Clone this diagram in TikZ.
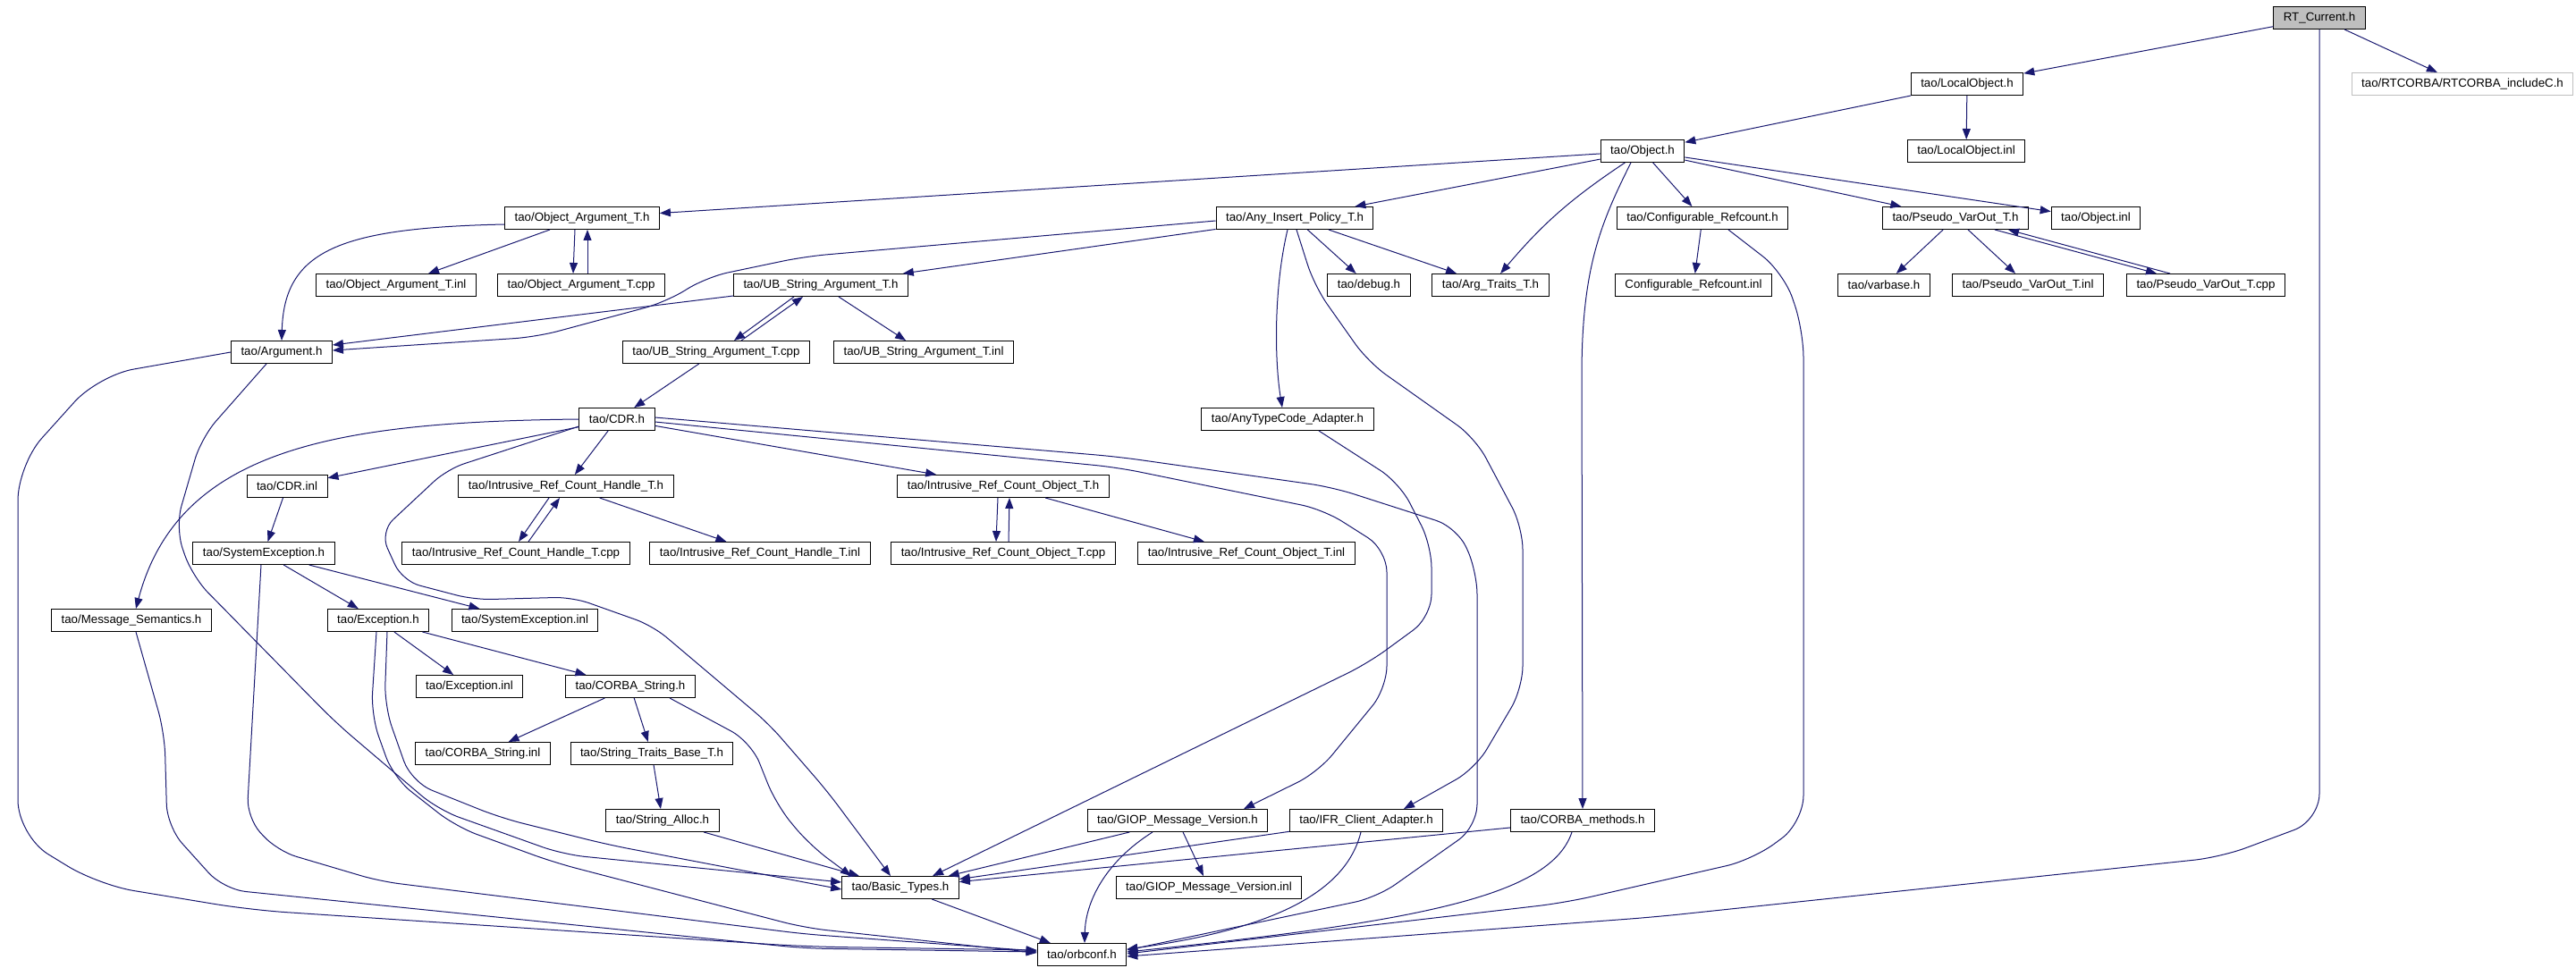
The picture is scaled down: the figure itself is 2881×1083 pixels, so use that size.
\documentclass[tikz,border=0pt]{standalone}
\usepackage{fontspec}
\setmainfont{Liberation Sans}
\usetikzlibrary{arrows.meta}
\definecolor{depblue}{HTML}{191970}
\definecolor{srcgray}{HTML}{BFBFBF}

\begin{document}
\begin{tikzpicture}[x=1pt,y=-1pt,>={Triangle[length=12pt,width=9pt]},
  file/.style={draw,line width=1pt,inner xsep=11pt,inner ysep=0pt,minimum height=25pt,font=\fontsize{13.3}{15}\selectfont},
  dep/.style={->,draw=depblue,line width=1pt},
  every edge/.style={draw,dep}]
  \useasboundingbox (0,0) rectangle (2881,1083);

  \node[file,fill=srcgray] (rtcur) at (2594,20) {RT\_Current.h};
  \node[file,draw=srcgray] (rtcorba) at (2754,94) {tao/RTCORBA/RTCORBA\_includeC.h};
  \node[file] (local) at (2200,94) {tao/LocalObject.h};
  \node[file] (localinl) at (2199,169) {tao/LocalObject.inl};
  \node[file] (obj) at (1837,169) {tao/Object.h};

  %4
  \node[file] (objarg) at (651,244) {tao/Object\_Argument\_T.h};
  \node[file] (anyins) at (1448,244) {tao/Any\_Insert\_Policy\_T.h};
  \node[file] (cfg) at (1904,244) {tao/Configurable\_Refcount.h};
  \node[file] (pvo) at (2187,244) {tao/Pseudo\_VarOut\_T.h};
  \node[file] (objinl) at (2344,244) {tao/Object.inl};

  %5
  \node[file] (objarginl) at (443,319) {tao/Object\_Argument\_T.inl};
  \node[file] (objargcpp) at (650,319) {tao/Object\_Argument\_T.cpp};
  \node[file] (ubarg) at (918,319) {tao/UB\_String\_Argument\_T.h};
  \node[file] (debug) at (1531,319) {tao/debug.h};
  \node[file] (argtr) at (1667,319) {tao/Arg\_Traits\_T.h};
  \node[file] (cfginl) at (1894,319) {Configurable\_Refcount.inl};
  \node[file] (varbase) at (2107,319) {tao/varbase.h};
  \node[file] (pvoinl) at (2268,319) {tao/Pseudo\_VarOut\_T.inl};
  \node[file] (pvocpp) at (2467,319) {tao/Pseudo\_VarOut\_T.cpp};

  %6
  \node[file] (arg) at (315,394) {tao/Argument.h};
  \node[file] (ubcpp) at (801,394) {tao/UB\_String\_Argument\_T.cpp};
  \node[file] (ubinl) at (1033,394) {tao/UB\_String\_Argument\_T.inl};

  %7
  \node[file] (cdr) at (690,469) {tao/CDR.h};
  \node[file] (anytc) at (1440,469) {tao/AnyTypeCode\_Adapter.h};

  %8
  \node[file] (cdrinl) at (321,544) {tao/CDR.inl};
  \node[file] (irch) at (633,544) {tao/Intrusive\_Ref\_Count\_Handle\_T.h};
  \node[file] (irco) at (1122,544) {tao/Intrusive\_Ref\_Count\_Object\_T.h};

  %9
  \node[file] (sysex) at (295,619) {tao/SystemException.h};
  \node[file] (irchcpp) at (577,619) {tao/Intrusive\_Ref\_Count\_Handle\_T.cpp};
  \node[file] (irchinl) at (850,619) {tao/Intrusive\_Ref\_Count\_Handle\_T.inl};
  \node[file] (ircocpp) at (1122,619) {tao/Intrusive\_Ref\_Count\_Object\_T.cpp};
  \node[file] (ircoinl) at (1394,619) {tao/Intrusive\_Ref\_Count\_Object\_T.inl};

  %10
  \node[file] (msgsem) at (147,694) {tao/Message\_Semantics.h};
  \node[file] (exc) at (423,694) {tao/Exception.h};
  \node[file] (sysexinl) at (587,694) {tao/SystemException.inl};

  %11
  \node[file] (excinl) at (525,768) {tao/Exception.inl};
  \node[file] (cstr) at (705,768) {tao/CORBA\_String.h};

  %12
  \node[file] (cstrinl) at (540,843) {tao/CORBA\_String.inl};
  \node[file] (strtr) at (729,843) {tao/String\_Traits\_Base\_T.h};

  %13
  \node[file] (stralloc) at (741,918) {tao/String\_Alloc.h};
  \node[file] (giop) at (1317,918) {tao/GIOP\_Message\_Version.h};
  \node[file] (ifr) at (1528,918) {tao/IFR\_Client\_Adapter.h};
  \node[file] (corbam) at (1770,918) {tao/CORBA\_methods.h};

  %14
  \node[file] (basic) at (1007,993) {tao/Basic\_Types.h};
  \node[file] (giopinl) at (1352,993) {tao/GIOP\_Message\_Version.inl};

  %15
  \node[file] (orbconf) at (1210,1068) {tao/orbconf.h};

  \path
    (rtcur) edge (local)
            edge (rtcorba)
    (local) edge (obj)
            edge (localinl)
    (obj) edge (objarg)
          edge (anyins)
          edge[bend right=8] (argtr)
          edge (cfg)
          edge (pvo)
          edge (objinl)
    (cfg) edge (cfginl)
    (pvo) edge (varbase)
          edge (pvoinl)
    (objarg) edge (objarginl)
    (anyins) edge (ubarg)
             edge (debug)
             edge (argtr)
    (ubarg) edge ([yshift=8pt]arg.east)
            edge (ubinl)
    (ubcpp) edge (cdr)
    (cdr) edge (cdrinl)
          edge (irch)
          edge (irco)
    (irch) edge (irchinl)
    (irco) edge (ircoinl)
    (cdrinl) edge (sysex)
    (sysex) edge (exc)
            edge (sysexinl)
    (exc) edge (excinl)
          edge (cstr)
    (cstr) edge (cstrinl)
           edge (strtr)
    (strtr) edge (stralloc)
    (stralloc) edge (basic)
    (giop) edge (basic)
           edge (giopinl)
    (ifr) edge (basic)
    (corbam) edge (basic)
    (basic) edge (orbconf);

  % both ways
  \path
    ([xshift=-8pt]objarg.south) edge ([xshift=-9pt]objargcpp.north)
    ([xshift=7pt]objargcpp.north) edge ([xshift=6pt]objarg.south)
    ([xshift=44pt]pvo.south) edge ([xshift=-55pt]pvocpp.north)
    ([xshift=-40pt]pvocpp.north) edge ([xshift=59pt]pvo.south)
    ([xshift=-30pt]ubarg.south) edge ([xshift=20pt]ubcpp.north)
    ([xshift=28pt]ubcpp.north) edge ([xshift=-20pt]ubarg.south)
    ([xshift=-19pt]irch.south) edge ([xshift=3pt]irchcpp.north)
    ([xshift=14pt]irchcpp.north) edge ([xshift=-7pt]irch.south)
    ([xshift=-6pt]irco.south) edge ([xshift=-8pt]ircocpp.north)
    ([xshift=6pt]ircocpp.north) edge ([xshift=7pt]irco.south);

  % long ones
  \draw[dep] ([xshift=-13pt]obj.south) .. controls (1790,250) and (1769,300) .. (1769,420) -- (corbam.north);
  \draw[dep] ([yshift=-7pt]objarg.west) .. controls (380,255) and (318,280) .. (arg.north);
  \draw[dep,rounded corners=25pt] ([yshift=-3pt]anyins.west) -- (900,287) -- (790,310) -- (745,338) -- (600,377) -- ([yshift=2pt]arg.east);
  \draw[dep] ([xshift=-8pt]anyins.south) .. controls (1425,320) and (1425,400) .. ([xshift=-6pt]anytc.north);
  \draw[dep,rounded corners=25pt] ([xshift=2pt]anyins.south) -- (1470,320) -- (1530,405) -- (1650,490) -- (1703,590) -- (1703,770) -- (1650,860) -- ([xshift=42pt]ifr.north);
  \draw[dep] (cdr.west) .. controls (380,472) and (200,500) .. ([xshift=5pt]msgsem.north);
  \draw[dep,rounded corners=20pt] ([yshift=-8pt]cdr.west) -- (500,525) -- (425,595) -- (450,650) -- (530,671) -- (640,668) -- (730,700) -- (860,810) -- (925,885) -- ([xshift=-11pt]basic.north);
  \draw[dep,rounded corners=25pt] ([yshift=-3pt]cdr.east) -- (1250,523) -- (1480,570) -- (1551,615) -- (1551,770) -- (1474,864) -- ([xshift=74pt]giop.north);
  \draw[dep,rounded corners=25pt] ([yshift=2pt]cdr.east) -- (1250,511) -- (1490,545) -- (1630,590) -- (1652,640) -- (1652,925) -- (1540,1004) -- ([yshift=5pt]orbconf.east);
  \draw[dep,rounded corners=25pt] ([xshift=35pt]anytc.south) -- (1565,540) -- (1601,610) -- (1601,690) -- (1530,742) -- ([xshift=36pt]basic.north);
  \draw[dep,rounded corners=30pt] ([xshift=29pt]cfg.south) -- (1995,305) -- (2017,370) -- (2017,920) -- (1960,962) -- (1750,1010) -- ([yshift=1pt]orbconf.east);
  \draw[dep,rounded corners=30pt] (rtcur.south) -- (2594,918) -- (2484,959) -- (1850,1026) -- ([yshift=-2pt]orbconf.east);
  \draw[dep] ([xshift=-12pt]corbam.south) .. controls (1735,1000) and (1600,1030) .. ([yshift=3pt]orbconf.east);
  \draw[dep] ([xshift=-6pt]ifr.south) .. controls (1505,1000) and (1420,1040) .. ([yshift=6pt]orbconf.east);
  \draw[dep] ([xshift=-28pt]giop.south) .. controls (1235,965) and (1214,1010) .. ([xshift=3pt]orbconf.north);
  \draw[dep,rounded corners=22pt] ([xshift=-3pt]sysex.south) -- (276,915) -- (310,952) -- (425,986) -- (900,1045) -- ([yshift=4pt]orbconf.west);
  \draw[dep,rounded corners=25pt] ([xshift=5pt]msgsem.south) -- (184,820) -- (187,925) -- (250,995) -- (900,1061) -- ([yshift=3pt]orbconf.west);
  \draw[dep,rounded corners=40pt] (arg.west) -- (110,420) -- (20,520) -- (20,935) -- (110,990) -- (280,1018) -- (900,1059) -- ([yshift=5pt]orbconf.west);
  \draw[dep,rounded corners=25pt] ([xshift=-17pt]arg.south) -- (225,490) -- (196,590) -- (215,645) -- (375,808) -- (490,906) -- (630,956) -- ([yshift=6pt]basic.west);
  \draw[dep,rounded corners=25pt] ([xshift=10pt]exc.south) -- (430,790) -- (460,875) -- (560,915) -- (680,945) -- ([yshift=-2pt]basic.west);
  \draw[dep,rounded corners=25pt] ([xshift=-2pt]exc.south) -- (415,800) -- (440,870) -- (510,925) -- (620,965) -- (900,1038) -- ([yshift=2pt]orbconf.west);
  \draw[dep,rounded corners=25pt] ([xshift=44pt]cstr.south) -- (840,830) -- (868,900) -- (905,945) -- ([xshift=-55pt]basic.north);
\end{tikzpicture}
\end{document}
